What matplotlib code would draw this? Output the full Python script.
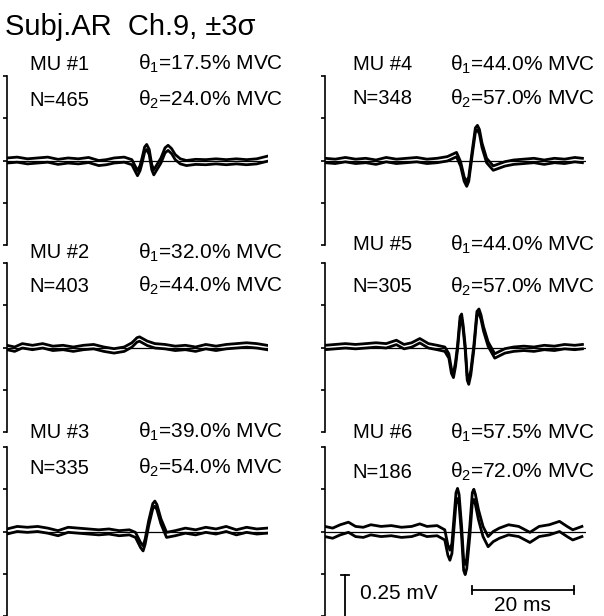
import matplotlib
matplotlib.use('Agg')
import matplotlib.pyplot as plt
import numpy as np

plt.rcParams['font.family'] = ['Liberation Sans', 'DejaVu Sans']
plt.rcParams['mathtext.fontset'] = 'custom'
plt.rcParams['mathtext.rm'] = 'Liberation Sans'
plt.rcParams['mathtext.it'] = 'Liberation Sans'

# motor unit info
mu_ids = [1, 2, 3, 4, 5, 6]
n_spikes = [465, 403, 335, 348, 305, 186]
theta1 = [17.5, 32.0, 39.0, 44.0, 44.0, 57.5]
theta2 = [24.0, 44.0, 54.0, 57.0, 57.0, 72.0]

# mean waveforms (time ms, amplitude mV)
t1 = [0, 2, 4, 6, 8, 10, 12, 14, 16, 18, 19.5, 21, 23, 24.5, 25.0, 25.6, 26.1, 26.5, 27.0, 27.4,
      27.9, 28.4, 28.8, 29.2, 30.2, 31.0, 31.6, 32.3, 33, 34, 35.2, 37, 39, 41, 43, 45, 47, 49, 51]
v1 = [0.0, 0.005, -0.005, 0.0, 0.005, -0.008, 0.0, -0.005, 0.003, -0.015, -0.01, 0.0, 0.005, -0.01,
      -0.04, -0.075, -0.045, 0.0, 0.065, 0.08, 0.05, -0.04, -0.07, -0.05, 0.0, 0.06, 0.075, 0.055,
      0.02, -0.005, -0.015, -0.008, -0.01, -0.005, -0.01, -0.005, -0.01, -0.005, 0.01]

t2 = [0, 1.5, 3, 5, 7, 9, 11, 13, 15, 17, 19, 21, 23, 24.5, 25.5, 26, 26.6, 27.5, 29, 31, 33, 35,
      37, 39, 41, 43, 45, 47, 49, 51]
v2 = [0.0, -0.01, 0.01, 0.0, 0.01, -0.005, 0.0, -0.01, 0.0, 0.005, -0.01, -0.02, -0.01, 0.015,
      0.045, 0.05, 0.04, 0.025, 0.01, 0.005, -0.005, 0.0, -0.01, 0.005, -0.005, 0.005, 0.01, 0.015,
      0.01, 0.0]

t3 = [0, 2, 4, 6, 8, 10, 12, 14, 16, 18, 20, 22, 24, 25.2, 26.2, 26.7, 27.1, 27.8, 28.6, 29.0,
      29.4, 30.2, 31.3, 33, 35, 37, 39, 41, 43, 45, 47, 49, 51]
v3 = [0.0, 0.015, 0.01, 0.015, 0.005, -0.01, 0.01, 0.005, 0.0, -0.005, 0.0, -0.01, -0.005, -0.02,
      -0.08, -0.1, -0.06, 0.05, 0.15, 0.165, 0.145, 0.06, -0.02, -0.01, 0.005, -0.005, 0.01, 0.0,
      0.015, -0.005, 0.01, 0.0, 0.005]

t4 = [0, 2, 4, 6, 8, 10, 12, 14, 16, 18, 20, 22, 24, 25.8, 26.6, 27.3, 27.8, 28.2, 28.9, 29.5,
      29.9, 30.3, 30.8, 31.7, 33.0, 35.3, 37, 39, 41, 43, 45, 47, 49, 50.5]
v4 = [0.0, -0.005, 0.005, -0.005, 0.0, -0.01, 0.005, -0.005, 0.0, 0.005, -0.005, 0.0, 0.01, 0.035,
      -0.02, -0.11, -0.14, -0.11, 0.05, 0.18, 0.195, 0.17, 0.09, 0.0, -0.045, -0.02, -0.01, -0.005,
      0.0, -0.01, 0.0, -0.005, 0.005, 0.0]

t5 = [0, 2, 4, 6, 8, 10, 12, 14, 15.5, 17, 18.6, 20.3, 22, 23.5, 24.3, 24.8, 25.2, 25.6, 26.0,
      26.5, 26.8, 27.1, 27.5, 27.9, 28.2, 28.6, 29.2, 29.8, 30.2, 30.6, 31.1, 32.0, 33.3, 35.3, 37,
      39, 41, 43, 45, 47, 49, 50.5]
v5 = [0.0, 0.005, 0.01, 0.005, 0.01, 0.015, 0.01, 0.03, 0.005, 0.015, 0.04, 0.01, 0.0, -0.01,
      -0.05, -0.14, -0.165, -0.1, 0.0, 0.17, 0.185, 0.12, 0.0, -0.18, -0.205, -0.15, 0.0, 0.2, 0.215,
      0.18, 0.11, 0.02, -0.05, -0.02, -0.01, -0.005, -0.01, 0.0, -0.005, 0.005, 0.0, 0.005]

t6 = [0, 1.5, 3, 4.6, 6, 7.5, 9, 11, 13, 15, 17, 18.6, 20, 22, 23.5, 24.1, 24.5, 24.9, 25.3, 25.7,
      26.0, 26.3, 26.8, 27.2, 27.5, 27.8, 28.4, 28.9, 29.2, 29.5, 30.1, 31.0, 32.0, 33, 34.2, 36, 38,
      40.2, 42, 44, 46, 47.5, 48.6, 50.4]
v6 = [0.0, -0.01, 0.01, 0.025, 0.0, -0.005, 0.01, 0.0, 0.005, -0.005, 0.0, 0.015, 0.0, 0.005,
      -0.02, -0.11, -0.14, -0.1, 0.05, 0.2, 0.225, 0.19, 0.0, -0.2, -0.225, -0.19, 0.0, 0.2, 0.22,
      0.19, 0.1, 0.0, -0.06, -0.03, -0.01, 0.01, 0.0, -0.035, 0.0, 0.01, 0.03, 0.0, -0.02, 0.0]

# 3 sigma half width of the band, mV
band3 = [0.015, 0.013, 0.015, 0.013, 0.013, 0.03]

times = [t1, t2, t3, t4, t5, t6]
means = [v1, v2, v3, v4, v5, v6]

W, H = 604, 616
fig = plt.figure(figsize=(W / 100, H / 100), dpi=100)
fig.patch.set_facecolor('white')

# layout in pixels
col_x = [7, 325]
row_top = [76, 263, 447]
ax_w = 261
ax_h = 169
lab_right = [89, 412]
theta_left = [138, 450]
mu_y = [64, 253, 432, 65, 245, 433]
n_y = [100, 286, 468, 99, 287, 472]

axes = []
for k in range(6):
    col, row = k // 3, k % 3
    ax = fig.add_axes([col_x[col] / W, 1 - (row_top[row] + ax_h) / H, ax_w / W, ax_h / H])
    ax.set_xlim(0, 51.2)
    ax.set_ylim(-0.5, 0.5)
    ax.patch.set_alpha(0)
    for s in ['top', 'right', 'bottom']:
        ax.spines[s].set_visible(False)
    ax.spines['left'].set_linewidth(1.2)
    ax.set_xticks([])
    ax.set_yticks([-0.5, -0.25, 0, 0.25, 0.5])
    ax.set_yticklabels([])
    ax.tick_params(axis='y', direction='out', length=3, width=1.2)

    t = np.array(times[k])
    m = np.array(means[k])
    ax.axhline(0, color='black', lw=0.9)
    ax.plot(t, m + band3[k], color='black', lw=2.0, solid_joinstyle='round')
    ax.plot(t, m - band3[k], color='black', lw=2.0, solid_joinstyle='round')
    axes.append(ax)

    fig.text(lab_right[col] / W, 1 - mu_y[k] / H, 'MU #{}'.format(mu_ids[k]),
             ha='right', va='center', fontsize=14.5)
    fig.text(lab_right[col] / W, 1 - n_y[k] / H, 'N={}'.format(n_spikes[k]),
             ha='right', va='center', fontsize=14.5)
    fig.text(theta_left[col] / W, 1 - mu_y[k] / H,
             r'θ$_{\mathregular{1}}$=' + '{:.1f}% MVC'.format(theta1[k]),
             ha='left', va='center', fontsize=15)
    fig.text(theta_left[col] / W, 1 - n_y[k] / H,
             r'θ$_{\mathregular{2}}$=' + '{:.1f}% MVC'.format(theta2[k]),
             ha='left', va='center', fontsize=15)

fig.text(5 / W, 1 - 27 / H, 'Subj.AR  Ch.9, ±3σ', ha='left', va='center', fontsize=21)

# scale bars in the last panel
ax = axes[5]
ax.plot([3.9, 3.9], [-0.26, -0.52], color='black', lw=1.3, clip_on=False)
ax.plot([3.1, 4.7], [-0.26, -0.26], color='black', lw=1.3, clip_on=False)
ax.text(6.9, -0.365, '0.25 mV', ha='left', va='center', fontsize=15, clip_on=False)
ax.plot([28.8, 48.8], [-0.347, -0.347], color='black', lw=1.3, clip_on=False)
ax.plot([28.8, 28.8], [-0.322, -0.372], color='black', lw=1.3, clip_on=False)
ax.plot([48.8, 48.8], [-0.322, -0.372], color='black', lw=1.3, clip_on=False)
ax.text(38.8, -0.436, '20 ms', ha='center', va='center', fontsize=15, clip_on=False)

fig.savefig('out.png', dpi=100)
